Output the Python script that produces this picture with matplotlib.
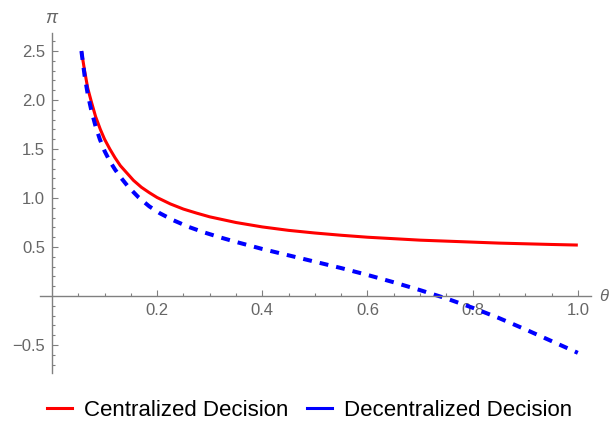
import matplotlib
matplotlib.use("Agg")
import matplotlib.pyplot as plt
from matplotlib.lines import Line2D
import numpy as np

plt.rcParams['font.family'] = ['Liberation Sans', 'DejaVu Sans']

# 读图得到的数据点 (θ, π)
theta_central = [0.056, 0.062, 0.068, 0.075, 0.083, 0.092, 0.10, 0.11, 0.12, 0.13,
                 0.14, 0.155, 0.17, 0.185, 0.20, 0.225, 0.25, 0.275, 0.30, 0.35,
                 0.40, 0.45, 0.50, 0.55, 0.60, 0.65, 0.70, 0.75, 0.80, 0.85,
                 0.90, 0.95, 1.00]
pi_central = [2.50, 2.30, 2.12, 1.98, 1.83, 1.70, 1.60, 1.50, 1.41, 1.33,
              1.27, 1.18, 1.11, 1.055, 1.005, 0.94, 0.887, 0.846, 0.808, 0.75,
              0.705, 0.67, 0.643, 0.62, 0.60, 0.585, 0.57, 0.56, 0.55, 0.54,
              0.533, 0.526, 0.52]

theta_decentral = [0.056, 0.062, 0.068, 0.075, 0.083, 0.091, 0.10, 0.11, 0.12, 0.13,
                   0.145, 0.165, 0.185, 0.205, 0.23, 0.26, 0.29, 0.32, 0.35, 0.40,
                   0.45, 0.50, 0.55, 0.60, 0.65, 0.70, 0.75, 0.80, 0.85, 0.90,
                   0.95, 1.00]
pi_decentral = [2.50, 2.25, 2.06, 1.89, 1.73, 1.60, 1.48, 1.375, 1.29, 1.215,
                1.115, 1.005, 0.915, 0.845, 0.775, 0.705, 0.648, 0.598, 0.552, 0.48,
                0.415, 0.35, 0.285, 0.215, 0.14, 0.06, -0.025, -0.12, -0.225, -0.34,
                -0.46, -0.58]

x_ticks = [0.2, 0.4, 0.6, 0.8, 1.0]
x_labels = ['0.2', '0.4', '0.6', '0.8', '1.0']
y_ticks = [-0.5, 0.5, 1.0, 1.5, 2.0, 2.5]
y_labels = ['\u22120.5', '0.5', '1.0', '1.5', '2.0', '2.5']

labels = ['Centralized Decision', 'Decentralized Decision']
colors = ['#ff0000', '#0000ff']

axis_color = '#808080'
label_color = '#666666'

fig = plt.figure(figsize=(6.09, 4.24), dpi=100)
ax = fig.add_axes([0.0655, 0.1193, 0.9049, 0.8019])

ax.plot(theta_central, pi_central, color=colors[0], lw=2.2, solid_capstyle='butt')
ax.plot(theta_decentral, pi_decentral, color=colors[1], lw=2.9, dashes=(2.2, 2.0))

ax.set_xlim(-0.023, 1.025)
ax.set_ylim(-0.79, 2.68)

# 坐标轴穿过原点
for side in ['top', 'right']:
    ax.spines[side].set_visible(False)
for side in ['left', 'bottom']:
    ax.spines[side].set_position('zero')
    ax.spines[side].set_color(axis_color)
    ax.spines[side].set_linewidth(1.0)

ax.set_xticks(x_ticks)
ax.set_xticklabels(x_labels)
ax.set_yticks(y_ticks)
ax.set_yticklabels(y_labels)
ax.set_xticks(np.arange(0.05, 1.001, 0.05), minor=True)
ax.set_yticks([v / 10 for v in range(-7, 27) if v % 5 != 0], minor=True)

ax.tick_params(which='both', direction='in', color=axis_color, width=0.8)
ax.tick_params(which='major', length=4.5, labelsize=12, labelcolor=label_color, pad=5)
ax.tick_params(which='minor', length=2.5)

ax.text(-0.002, 2.83, '\u03c0', color=label_color, fontsize=13, style='italic',
        ha='center', va='center', clip_on=False)
ax.text(1.04, 0.0, '\u03b8', color=label_color, fontsize=12, style='italic',
        ha='left', va='center', clip_on=False)

handles = [Line2D([], [], color=c, lw=2.2) for c in colors]
fig.legend(handles, labels, loc='center', bbox_to_anchor=(0.508, 0.033), ncol=2,
           frameon=False, fontsize=16, handlelength=1.12, handletextpad=0.54,
           columnspacing=0.85)

fig.savefig('out.png', dpi=100)
